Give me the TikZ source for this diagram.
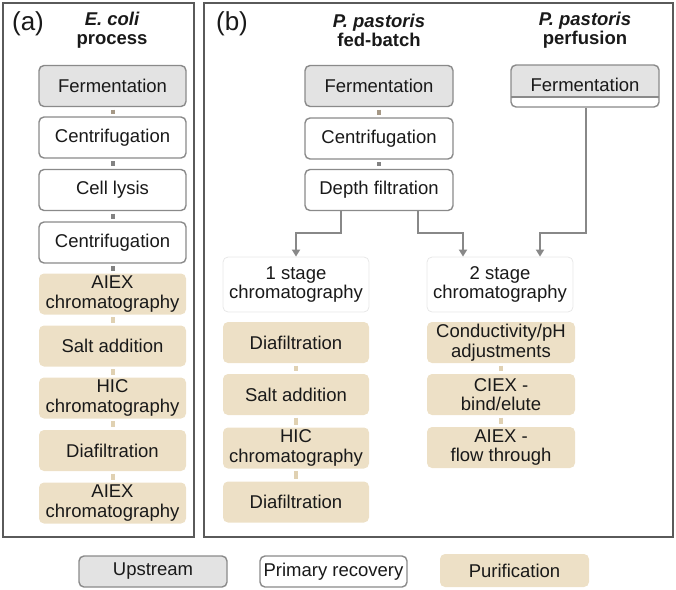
\documentclass[tikz,border=0pt]{standalone}
\usepackage{fontspec}
\setmainfont{Liberation Sans}
\usetikzlibrary{arrows.meta,calc}
\definecolor{upfill}{RGB}{227,227,227}
\definecolor{boxline}{RGB}{138,138,138}
\definecolor{tanfill}{RGB}{237,224,198}
\definecolor{tanmark}{RGB}{224,209,178}
\definecolor{graymark}{RGB}{130,130,130}
\definecolor{brmark}{RGB}{165,152,134}
\definecolor{panelline}{RGB}{90,90,90}
\definecolor{txt}{RGB}{25,25,25}
\definecolor{faint}{RGB}{232,232,232}
\definecolor{flowcol}{RGB}{136,136,136}
\tikzset{
  base/.style={rounded corners=5pt, minimum width=147pt, minimum height=41pt, align=center,
    text=txt, font=\fontsize{18.5}{19.5}\selectfont, inner sep=0pt},
  upbox/.style={base, draw=boxline, line width=1.4pt, fill=upfill},
  prbox/.style={base, draw=boxline, line width=1.4pt, fill=white},
  pubox/.style={base, fill=tanfill},
  chbox/.style={base, draw=faint, line width=0.8pt, fill=white, minimum height=55pt},
  stepmark/.style={line width=4pt, shorten <=2.5pt, shorten >=2.5pt},
  flow/.style={draw=flowcol, line width=1.8pt, -{Triangle[width=8pt,length=7pt]}},
  panel/.style={draw=panelline, line width=1.4pt},
  ttl/.style={text=txt, font=\fontsize{18.5}{19}\selectfont\bfseries, align=center},
  lbl/.style={text=txt, font=\fontsize{26}{26}\selectfont}
}
\begin{document}
\begin{tikzpicture}[x=1pt,y=-1pt]
\useasboundingbox (0,0) rectangle (676,589);
% panels
\draw[panel] (3,3) rectangle (194,537);
\draw[panel] (204,3) rectangle (673,537);
\node[lbl] (la) at (28,24) {(a)};
\node[lbl] (lb) at (232,24) {(b)};
\node[ttl] (ta) at (112,30) {\itshape E. coli\\process};
\node[ttl] (tb) at (379,30) {\itshape P. pastoris\\fed-batch};
\node[ttl] (tc) at (585,30) {\itshape P. pastoris\\perfusion};
% (a) column
\node[upbox] (a1) at (112.5,86) {Fermentation};
\node[prbox] (a2) at (112.5,137.5) {Centrifugation};
\node[prbox] (a3) at (112.5,190) {Cell lysis};
\node[prbox] (a4) at (112.5,242.5) {Centrifugation};
\node[pubox] (a5) at (112.5,294) {AIEX\\chromatography};
\node[pubox] (a6) at (112.5,346) {Salt addition};
\node[pubox] (a7) at (112.5,398) {HIC\\chromatography};
\node[pubox] (a8) at (112.5,450.5) {Diafiltration};
\node[pubox] (a9) at (112.5,503) {AIEX\\chromatography};
\draw[stepmark,brmark] (a1.south) -- (a2.north);
\draw[stepmark,graymark] (a2.south) -- (a3.north);
\draw[stepmark,graymark] (a3.south) -- (a4.north);
\draw[stepmark,graymark] (a4.south) -- (a5.north);
\draw[stepmark,tanmark] (a5.south) -- (a6.north);
\draw[stepmark,tanmark] (a6.south) -- (a7.north);
\draw[stepmark,tanmark] (a7.south) -- (a8.north);
\draw[stepmark,tanmark] (a8.south) -- (a9.north);
% (b) fed-batch
\node[upbox, minimum width=148pt] (b1) at (379,86) {Fermentation};
\node[prbox, minimum width=148pt] (b2) at (379,138.5) {Centrifugation};
\node[prbox, minimum width=148pt] (b3) at (379,190) {Depth filtration};
\draw[stepmark,brmark] (b1.south) -- (b2.north);
\draw[stepmark,graymark] (b2.south) -- (b3.north);
% perfusion
\node[upbox, minimum width=148pt, minimum height=42pt,
  path picture={\fill[white] (path picture bounding box.south west) rectangle ([yshift=10pt]path picture bounding box.south east);
  \draw[boxline, line width=1.4pt] ([yshift=10pt]path picture bounding box.south west) -- ([yshift=10pt]path picture bounding box.south east);}]
  (p1) at (585,86) {\raisebox{1.5pt}{Fermentation}};
% chromatography
\node[chbox, minimum width=146pt] (s1) at (296,284.5) {1 stage\\chromatography};
\node[chbox, minimum width=146pt] (s2) at (500,284.5) {2 stage\\chromatography};
\draw[flow] ([xshift=-38pt]b3.south) -- ++(0,22) -| (s1.north);
\draw[flow] ([xshift=39pt]b3.south) -- ++(0,22) -| ([xshift=-37pt]s2.north);
\draw[flow] ([xshift=1pt]p1.south) -- ++(0,125) -| ([xshift=40pt]s2.north);
% 1 stage column
\node[pubox, minimum width=146pt] (c1) at (296,342.5) {Diafiltration};
\node[pubox, minimum width=146pt] (c2) at (296,394.5) {Salt addition};
\node[pubox, minimum width=146pt] (c3) at (296,448) {HIC\\chromatography};
\node[pubox, minimum width=146pt] (c4) at (296,502) {Diafiltration};
\draw[stepmark,tanmark] (c1.south) -- (c2.north);
\draw[stepmark,tanmark] (c2.south) -- (c3.north);
\draw[stepmark,tanmark] (c3.south) -- (c4.north);
% 2 stage column
\node[pubox, minimum width=148pt] (d1) at (501,342.5) {Conductivity/pH\\adjustments};
\node[pubox, minimum width=148pt] (d2) at (501,394.5) {CIEX -\\bind/elute};
\node[pubox, minimum width=148pt] (d3) at (501,447.5) {AIEX -\\flow through};
\draw[stepmark,tanmark] (d1.south) -- (d2.north);
\draw[stepmark,tanmark] (d2.south) -- (d3.north);
% legend
\node[upbox, minimum height=31pt, minimum width=148pt] (g1) at (153,571.5) {Upstream};
\node[prbox, minimum height=31pt, minimum width=147pt] (g2) at (333.5,571.5) {Primary recovery};
\node[pubox, minimum height=33pt, minimum width=149pt] (g3) at (514.5,570.5) {Purification};
\end{tikzpicture}
\end{document}
